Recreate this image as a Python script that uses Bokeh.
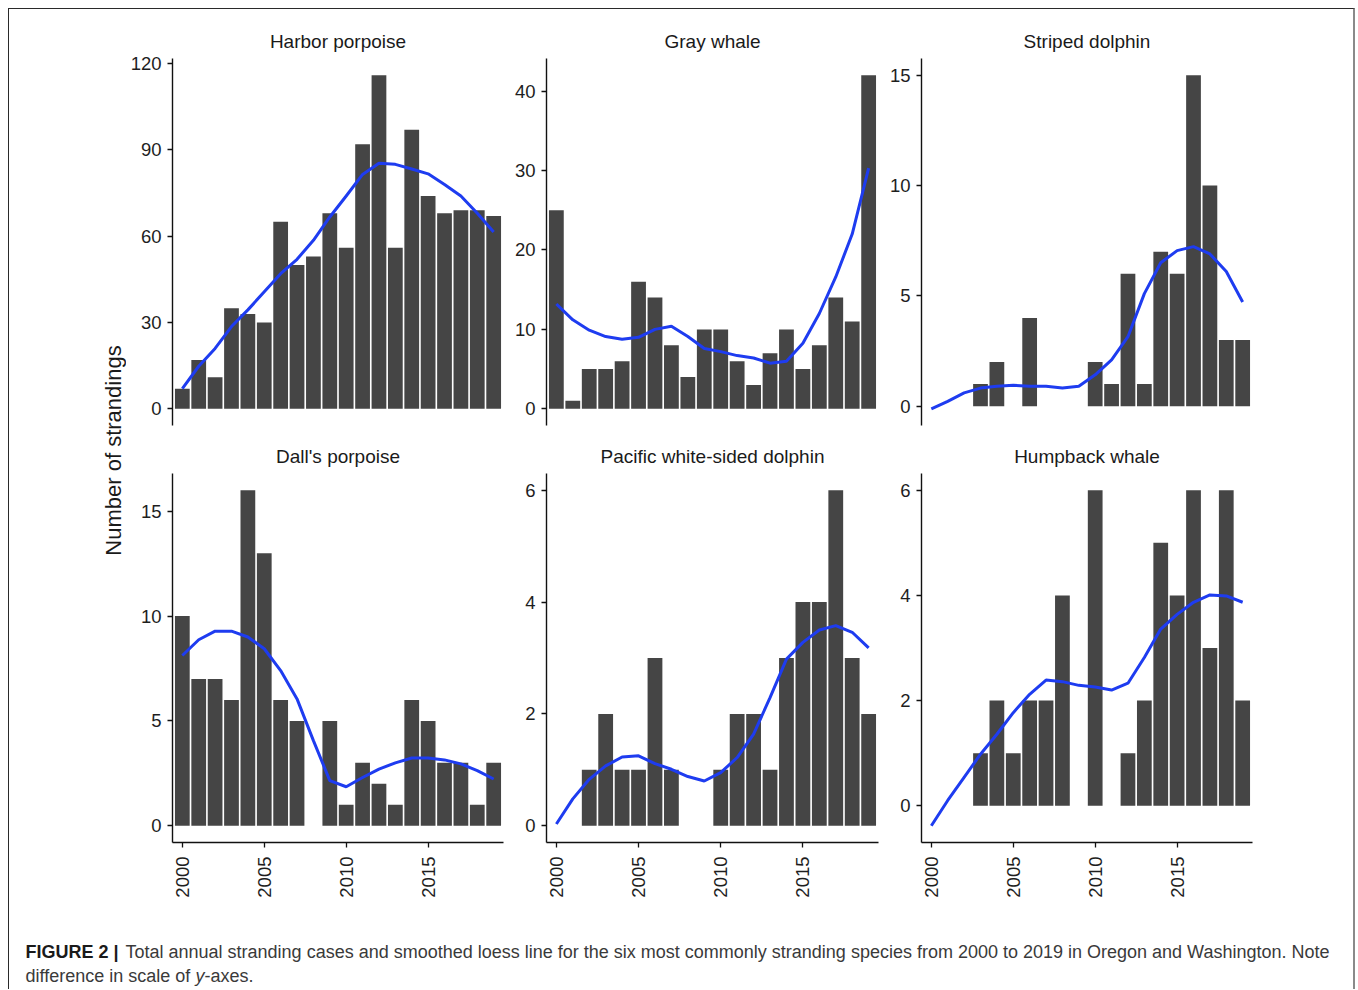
from math import pi
from bokeh.plotting import figure
from bokeh.layouts import row, column
from bokeh.models import Range1d, Label, FixedTicker
from bokeh.embed import file_html
from bokeh.resources import INLINE

years = list(range(2000, 2020))
species = ["Harbor porpoise", "Gray whale", "Striped dolphin",
           "Dall's porpoise", "Pacific white-sided dolphin", "Humpback whale"]

harbor_porpoise = [7, 17, 11, 35, 33, 30, 65, 50, 53, 68, 56, 92, 116, 56, 97, 74, 68, 69, 69, 67]
gray_whale = [25, 1, 5, 5, 6, 16, 14, 8, 4, 10, 10, 6, 3, 7, 10, 5, 8, 14, 11, 42]
striped_dolphin = [0, 0, 0, 1, 2, 0, 4, 0, 0, 0, 2, 1, 6, 1, 7, 6, 15, 10, 3, 3]
dalls_porpoise = [10, 7, 7, 6, 16, 13, 6, 5, 0, 5, 1, 3, 2, 1, 6, 5, 3, 3, 1, 3]
pacific_wsd = [0, 0, 1, 2, 1, 1, 3, 1, 0, 0, 1, 2, 2, 1, 3, 4, 4, 6, 3, 2]
humpback_whale = [0, 0, 0, 1, 2, 1, 2, 2, 4, 0, 6, 0, 1, 2, 5, 4, 6, 3, 6, 2]

harbor_porpoise_loess = [7, 14.8, 21, 28.6, 34.4, 40.7, 47, 52, 58.6, 66.7, 74, 81.5, 85.4, 85, 83.4, 81.7, 78, 74, 68, 61.5]
gray_whale_loess = [13.2, 11.2, 9.9, 9.1, 8.75, 9.0, 10.0, 10.4, 9.1, 7.6, 7.2, 6.7, 6.4, 5.75, 6.0, 8.25, 12.0, 16.6, 22.0, 30.3]
striped_dolphin_loess = [-0.12, 0.22, 0.6, 0.82, 0.9, 0.95, 0.9, 0.9, 0.82, 0.9, 1.42, 2.1, 3.15, 5.1, 6.5, 7.05, 7.23, 6.9, 6.1, 4.72]
dalls_porpoise_loess = [8.12, 8.87, 9.28, 9.28, 9.0, 8.44, 7.4, 6.05, 4.06, 2.15, 1.86, 2.3, 2.7, 3.0, 3.23, 3.23, 3.14, 2.95, 2.63, 2.23]
pacific_wsd_loess = [0.03, 0.48, 0.83, 1.07, 1.23, 1.25, 1.11, 1.01, 0.88, 0.8, 0.95, 1.22, 1.64, 2.29, 2.98, 3.28, 3.5, 3.58, 3.46, 3.18]
humpback_whale_loess = [-0.38, 0.1, 0.54, 0.98, 1.36, 1.77, 2.12, 2.39, 2.36, 2.29, 2.26, 2.2, 2.33, 2.82, 3.36, 3.64, 3.87, 4.01, 3.99, 3.87]

y_ticks = [[0, 30, 60, 90, 120], [0, 10, 20, 30, 40], [0, 5, 10, 15],
           [0, 5, 10, 15], [0, 2, 4, 6], [0, 2, 4, 6]]
x_ticks = [2000, 2005, 2010, 2015]

ylabel = "Number of strandings"
caption_bold = "FIGURE 2 |"
caption_line1 = ("Total annual stranding cases and smoothed loess line for the six most commonly "
                 "stranding species from 2000 to 2019 in Oregon and Washington. Note")
caption_line2a = "difference in scale of "
caption_line2b = "y"
caption_line2c = "-axes."

counts = [harbor_porpoise, gray_whale, striped_dolphin, dalls_porpoise, pacific_wsd, humpback_whale]
loess = [harbor_porpoise_loess, gray_whale_loess, striped_dolphin_loess,
         dalls_porpoise_loess, pacific_wsd_loess, humpback_whale_loess]

FONT = "Liberation Sans"
BAR = "#454545"
LINE = "#1e3cf0"
TICK_FS = "18.5px"

widths = [384, 375, 468]
left_b = [46, 36, 36]
right_b = [7, 7, 101]

TOP_H, BOT_H = 425, 471


def style_axis(ax):
    ax.minor_tick_line_color = None
    ax.major_tick_out = 5
    ax.major_tick_in = 0
    ax.major_tick_line_width = 1.3
    ax.major_tick_line_color = "#111111"
    ax.axis_line_width = 1.4
    ax.axis_line_color = "#111111"
    ax.major_label_text_font = FONT
    ax.major_label_text_font_size = TICK_FS
    ax.major_label_text_color = "#1e1e1e"
    ax.major_label_standoff = 6


def make_panel(i):
    top_row = i < 3
    col = i % 3
    c = counts[i]
    l = loess[i]
    lo = min(0, min(l))
    hi = max(max(c), max(l))
    pad = 0.05 * (hi - lo)
    p = figure(width=widths[col], height=TOP_H if top_row else BOT_H,
               x_range=Range1d(years[0] - 0.6, years[-1] + 0.6),
               y_range=Range1d(lo - pad, hi + pad),
               output_backend="svg", toolbar_location=None,
               x_axis_location=None if top_row else "below",
               min_border_left=left_b[col], min_border_right=right_b[col],
               min_border_top=49 if top_row else 39,
               min_border_bottom=9 if top_row else 63,
               title=species[i])
    p.title.align = "center"
    p.title.text_font = FONT
    p.title.text_font_size = "19px"
    p.title.text_font_style = "normal"
    p.title.text_color = "#1a1a1a"
    p.title.standoff = 14
    p.outline_line_color = None
    p.xgrid.visible = False
    p.ygrid.visible = False
    p.background_fill_color = "white"
    p.border_fill_color = "white"

    p.vbar(x=years, top=c, width=0.9, fill_color=BAR, line_color=None)
    p.line(years, l, line_color=LINE, line_width=3)

    for ax in p.yaxis:
        ax.ticker = FixedTicker(ticks=y_ticks[i])
        style_axis(ax)
    if not top_row:
        for ax in p.xaxis:
            ax.ticker = FixedTicker(ticks=x_ticks)
            style_axis(ax)
            ax.major_label_orientation = pi / 2
            ax.major_label_standoff = 9
    return p


panels = [make_panel(i) for i in range(6)]

# y-axis label column
YL_H = TOP_H + BOT_H
ylab = figure(width=117, height=YL_H, x_range=Range1d(0, 117), y_range=Range1d(0, YL_H),
              output_backend="svg", toolbar_location=None,
              x_axis_location=None, y_axis_location=None,
              min_border_left=0, min_border_right=0, min_border_top=0, min_border_bottom=0)
ylab.outline_line_color = None
ylab.xgrid.visible = False
ylab.ygrid.visible = False
ylab.add_layout(Label(x=104, y=YL_H - 441, text=ylabel, angle=pi / 2, text_align="center",
                      text_baseline="middle", text_font=FONT, text_font_size="22px",
                      text_color="#1a1a1a"))

# caption
CAP_H = 84
cap = figure(width=1344, height=CAP_H, x_range=Range1d(0, 1344), y_range=Range1d(0, CAP_H),
             output_backend="svg", toolbar_location=None,
             x_axis_location=None, y_axis_location=None,
             min_border_left=0, min_border_right=0, min_border_top=0, min_border_bottom=0)
cap.outline_line_color = None
cap.xgrid.visible = False
cap.ygrid.visible = False
CAP_FS = "18px"
cap.add_layout(Label(x=16, y=38, text=caption_bold, text_font=FONT, text_font_size=CAP_FS,
                     text_font_style="bold", text_color="#1a1a1a", text_baseline="middle"))
cap.add_layout(Label(x=116, y=38, text=caption_line1, text_font=FONT, text_font_size=CAP_FS,
                     text_color="#3a3a3a", text_baseline="middle"))
cap.add_layout(Label(x=16, y=14, text=caption_line2a, text_font=FONT, text_font_size=CAP_FS,
                     text_color="#3a3a3a", text_baseline="middle"))
cap.add_layout(Label(x=186, y=14, text=caption_line2b, text_font=FONT, text_font_size=CAP_FS,
                     text_font_style="italic", text_color="#3a3a3a", text_baseline="middle"))
cap.add_layout(Label(x=195, y=14, text=caption_line2c, text_font=FONT, text_font_size=CAP_FS,
                     text_color="#3a3a3a", text_baseline="middle"))

grid = column(row(*panels[:3], spacing=0), row(*panels[3:], spacing=0), spacing=0)
layout = column(row(ylab, grid, spacing=0), cap, spacing=0,
                styles={"margin-left": "8px", "margin-top": "8px",
                        "border-left": "1px solid #2a2a2a", "border-top": "1px solid #2a2a2a",
                        "border-right": "2px solid #8a8a8a"})

open("out.html", "w").write(file_html(layout, INLINE))
